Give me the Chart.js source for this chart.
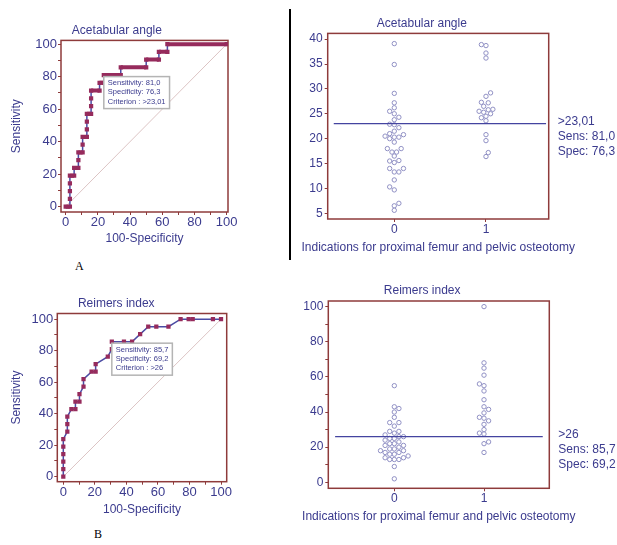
<!DOCTYPE html>
<html>
<head>
<meta charset="utf-8">
<title>ROC curves and dot plots</title>
<script src="https://cdn.jsdelivr.net/npm/chart.js@4.4.1/dist/chart.umd.min.js"></script>
<style>
  body { margin: 0; background: #fff; }
  #page { position: relative; width: 617px; height: 545px; overflow: hidden; }
  canvas { position: absolute; }
  .tag { position: absolute; font: 12px "Liberation Serif", "Times New Roman", serif; color: #000; }
  #divider { position: absolute; left: 289px; top: 9px; width: 2px; height: 251px; background: #000; }
</style>
</head>
<body>
<div id="page">
  <canvas id="rocA" width="240" height="235" style="left:0;top:15px"></canvas>
  <canvas id="dotA" width="322" height="259" style="left:295px;top:0"></canvas>
  <canvas id="rocB" width="240" height="236" style="left:0;top:285px"></canvas>
  <canvas id="dotB" width="322" height="260" style="left:295px;top:268px"></canvas>
  <div id="divider"></div>
  <div class="tag" style="left:75px;top:259px">A</div>
  <div class="tag" style="left:94px;top:527px">B</div>
</div>
<script>
// ROC A - acetabular angle (100-Specificity, Sensitivity)
const rocA_fpr = [0, 2.63, 2.63, 2.63, 2.63, 2.63, 5.26, 5.26, 7.89, 7.89, 7.89, 10.53, 10.53, 10.53,
  13.16, 13.16, 13.16, 13.16, 15.79, 15.79, 15.79, 15.79, 21.05, 21.05, 23.68, 23.68, 34.21, 34.21,
  50.00, 50.00, 57.89, 57.89, 63.16, 63.16, 100];
const rocA_sens = [0, 0, 4.76, 9.52, 14.29, 19.05, 19.05, 23.81, 23.81, 28.57, 33.33, 33.33, 38.10, 42.86,
  42.86, 47.62, 52.38, 57.14, 57.14, 61.90, 66.67, 71.43, 71.43, 76.19, 76.19, 80.95, 80.95, 85.71,
  85.71, 90.48, 90.48, 95.24, 95.24, 100, 100];

// ROC B - Reimers index
const rocB_fpr = [0, 0, 0, 0, 0, 0, 2.56, 2.56, 2.56, 5.13, 7.69, 7.69, 10.26, 10.26, 12.82, 12.82,
  17.95, 20.51, 20.51, 28.21, 30.77, 30.77, 38.46, 43.59, 48.72, 53.85, 58.97, 66.67, 74.36, 79.49,
  82.05, 94.87, 100];
const rocB_sens = [0, 4.76, 9.52, 14.29, 19.05, 23.81, 28.57, 33.33, 38.10, 42.86, 42.86, 47.62, 47.62,
  52.38, 57.14, 61.90, 66.67, 66.67, 71.43, 76.19, 80.95, 85.71, 85.71, 85.71, 90.48, 95.24, 95.24,
  95.24, 100, 100, 100, 100, 100];

// criterion points and their text
const critA = [23.68, 80.95];
const critA_text = ['Sensitivity: 81,0', 'Specificity: 76,3', 'Criterion : >23,01'];
const critB = [30.77, 85.71];
const critB_text = ['Sensitivity: 85,7', 'Specificity: 69,2', 'Criterion : >26'];

// dot plot values per group (0 / 1)
const groupCats = ['0', '1'];
const angle0 = [39.1, 34.9, 29.1, 27.2, 26.2, 25.5, 25.0, 24.3, 23.8, 22.9, 22.8, 22.2, 21.5, 21.0,
  20.8, 20.5, 20.3, 20.3, 20.0, 19.3, 18.0, 18.0, 17.3, 17.3, 16.5, 15.6, 15.5, 15.2, 14.0, 14.0,
  13.3, 13.3, 11.7, 10.3, 9.7, 7.0, 6.5, 5.6];
const angle1 = [38.9, 38.7, 37.2, 36.2, 29.2, 28.5, 27.3, 27.2, 26.5, 25.9, 25.8, 25.5, 25.3, 25.0,
  24.5, 24.2, 23.6, 20.8, 19.6, 17.2, 16.4];
const angleCut = 23.01;
const angleCutText = ['>23,01', 'Sens: 81,0', 'Spec: 76,3'];

const reimers0 = [55, 43, 42, 40, 37, 34, 34, 32, 29, 29, 28, 27, 26, 26, 25, 25, 24, 23, 22, 22,
  21, 21, 20, 19, 19, 18, 18, 17, 17, 16, 16, 15, 14, 14, 13, 13, 13, 9, 2];
const reimers1 = [100, 68, 65, 61, 56, 55, 52, 47, 43, 41.5, 39.5, 37, 36.5, 35, 33, 30, 28, 27.5,
  23, 22, 17];
const reimersCut = 26;
const reimersCutText = ['>26', 'Sens: 85,7', 'Spec: 69,2'];

// tick values
const rocTicks = [0, 10, 20, 30, 40, 50, 60, 70, 80, 90, 100];
const angleTicks = [5, 10, 15, 20, 25, 30, 35, 40];
const reimersTicks = [0, 10, 20, 30, 40, 50, 60, 70, 80, 90, 100];

const TEXT = '#3b3b8e';
const FRAME = '#8e3b3b';
const MARKER = '#962b5c';
const CURVE = '#4b4ba3';
const DIAG = '#dcc4c4';
const DOT = '#9090c4';
const CUT = '#4444a0';
const FONT = '"Liberation Sans", Arial, sans-serif';

// box round the plot area
const framePlugin = {
  id: 'frame',
  beforeDatasetsDraw(chart) {
    const a = chart.chartArea, ctx = chart.ctx;
    ctx.save();
    ctx.strokeStyle = FRAME;
    ctx.lineWidth = 1.5;
    ctx.strokeRect(a.left, a.top, a.right - a.left, a.bottom - a.top);
    ctx.restore();
  }
};

// criterion box on the ROC curve
const infoBoxPlugin = {
  id: 'infoBox',
  afterDatasetsDraw(chart, args, opts) {
    const ctx = chart.ctx;
    const x0 = chart.scales.x.getPixelForValue(opts.at[0]);
    const y0 = chart.scales.y.getPixelForValue(opts.at[1]) + 1.5;
    ctx.save();
    ctx.font = '7.5px ' + FONT;
    const w = Math.max(...opts.lines.map(t => ctx.measureText(t).width)) + 8;
    ctx.fillStyle = '#fff';
    ctx.fillRect(x0, y0, w, 32);
    ctx.strokeStyle = '#b4b4b4';
    ctx.lineWidth = 1.5;
    ctx.strokeRect(x0, y0, w, 32);
    ctx.fillStyle = TEXT;
    ctx.textBaseline = 'middle';
    opts.lines.forEach((t, i) => ctx.fillText(t, x0 + 4, y0 + 6.5 + i * 9.3));
    ctx.restore();
  }
};

// cut-off text to the right of the dot plot, and the long x title
const dotTextPlugin = {
  id: 'dotText',
  afterDraw(chart, args, opts) {
    const ctx = chart.ctx, a = chart.chartArea;
    const y = chart.scales.y.getPixelForValue(opts.value);
    ctx.save();
    ctx.font = '12px ' + FONT;
    ctx.fillStyle = TEXT;
    ctx.textBaseline = 'middle';
    opts.lines.forEach((t, i) => ctx.fillText(t, a.right + 9, y - 1.5 + i * 15));
    ctx.textAlign = 'center';
    ctx.fillText(opts.xTitle, (a.left + a.right) / 2, a.bottom + opts.titleDy);
    ctx.restore();
  }
};

// spread overlapping dots sideways (pixel space)
const swarmPlugin = {
  id: 'swarm',
  afterDatasetsUpdate(chart) {
    const diam = 4.3, step = 2.3;
    chart.data.datasets.forEach((ds, i) => {
      if (!ds.swarm) return;
      const placed = [];
      const pts = chart.getDatasetMeta(i).data.slice().sort((a, b) => b.y - a.y);
      let side = 1;
      pts.forEach(p => {
        const cx = p.x;
        for (let k = 0; k < 30; k++) {
          const off = k === 0 ? 0 : (k % 2 ? side : -side) * Math.ceil(k / 2) * step;
          if (placed.every(q => Math.hypot(q.x - cx - off, q.y - p.y) >= diam)) {
            p.x = cx + off;
            if (off !== 0) side = off > 0 ? -1 : 1;
            break;
          }
        }
        placed.push({ x: p.x, y: p.y });
      });
    });
  }
};

function axisTitle(text) {
  return { display: true, text: text, color: TEXT, font: { size: 12, family: FONT }, padding: { top: 4, bottom: 4 } };
}

function tickMarks() {
  return { drawOnChartArea: false, tickLength: 3, color: FRAME, lineWidth: 1 };
}

function rocChart(id, o) {
  const pts = o.fpr.map((x, i) => ({ x: x, y: o.sens[i] }));
  const flat = c => c.p0.parsed.y === c.p1.parsed.y;
  return new Chart(document.getElementById(id), {
    type: 'scatter',
    data: {
      datasets: [{
        data: pts,
        showLine: true,
        borderColor: CURVE,
        borderWidth: 1.5,
        pointStyle: 'rect',
        pointRadius: 3,
        pointBorderWidth: 0,
        pointBackgroundColor: MARKER,
        segment: o.thickSteps ? {
          borderColor: c => flat(c) ? MARKER : CURVE,
          borderWidth: c => flat(c) ? 4 : 1.5
        } : {}
      }, {
        data: [{ x: 0, y: 0 }, { x: 100, y: 100 }],
        showLine: true,
        borderColor: DIAG,
        borderWidth: 1,
        pointRadius: 0
      }]
    },
    options: {
      responsive: false,
      animation: false,
      events: [],
      layout: { padding: { left: 5.8, right: o.padRight, top: 0, bottom: 0 } },
      plugins: {
        legend: { display: false },
        tooltip: { enabled: false },
        title: {
          display: true, text: o.title, color: TEXT,
          font: { size: 12, family: FONT, weight: 'normal' },
          padding: { top: o.titleTop, bottom: 3 }
        },
        infoBox: { at: o.crit, lines: o.lines }
      },
      scales: {
        x: {
          type: 'linear', min: o.xMin, max: o.xMax,
          afterBuildTicks: s => { s.ticks = rocTicks.map(v => ({ value: v })); },
          afterFit: s => { s.height = o.xAxisH; },
          ticks: {
            callback: v => v % 20 === 0 ? v : '',
            color: TEXT, font: { size: 13, family: FONT }, padding: 0, maxRotation: 0, autoSkip: false
          },
          grid: tickMarks(),
          border: { display: false },
          title: axisTitle('100-Specificity')
        },
        y: {
          type: 'linear', min: o.yMin, max: o.yMax,
          afterBuildTicks: s => { s.ticks = rocTicks.map(v => ({ value: v })); },
          afterFit: s => { s.width = o.yAxisW; },
          ticks: {
            callback: v => v % 20 === 0 ? v : '',
            color: TEXT, font: { size: 13, family: FONT }, padding: 1, autoSkip: false
          },
          grid: tickMarks(),
          border: { display: false },
          title: axisTitle('Sensitivity')
        }
      }
    },
    plugins: [framePlugin, infoBoxPlugin]
  });
}

function dotChart(id, o) {
  const dotStyle = {
    swarm: true, pointRadius: 2.2, pointBorderWidth: 1,
    pointBorderColor: DOT, pointBackgroundColor: '#fff'
  };
  return new Chart(document.getElementById(id), {
    type: 'scatter',
    data: {
      datasets: [
        {
          type: 'line',
          data: [{ x: -0.66, y: o.cut }, { x: 1.655, y: o.cut }],
          borderColor: CUT, borderWidth: 1.3, pointRadius: 0
        },
        Object.assign({ data: o.g0.map(v => ({ x: 0, y: v })) }, dotStyle),
        Object.assign({ data: o.g1.map(v => ({ x: 1, y: v })) }, dotStyle)
      ]
    },
    options: {
      responsive: false,
      animation: false,
      events: [],
      layout: { padding: { left: 0, right: o.padRight, top: 0, bottom: 0 } },
      plugins: {
        legend: { display: false },
        tooltip: { enabled: false },
        title: {
          display: true, text: o.title, color: TEXT,
          font: { size: 12, family: FONT, weight: 'normal' },
          padding: { top: o.titleTop, bottom: 3 }
        },
        dotText: {
          value: o.cut, lines: o.cutText, titleDy: o.titleDy,
          xTitle: 'Indications for proximal femur and pelvic osteotomy'
        }
      },
      scales: {
        x: {
          type: 'linear', min: o.xMin, max: o.xMax,
          afterBuildTicks: s => { s.ticks = groupCats.map((c, i) => ({ value: i })); },
          afterFit: s => { s.height = o.xAxisH; },
          ticks: {
            callback: (v, i) => groupCats[i],
            color: TEXT, font: { size: 12, family: FONT }, padding: 0, maxRotation: 0, autoSkip: false
          },
          grid: tickMarks(),
          border: { display: false }
        },
        y: {
          type: 'linear', min: o.yMin, max: o.yMax,
          afterBuildTicks: s => { s.ticks = o.ticks.map(v => ({ value: v })); },
          afterFit: s => { s.width = o.yAxisW; },
          ticks: {
            callback: v => v % o.labelEvery === 0 ? v : '',
            color: TEXT, font: { size: 12, family: FONT }, padding: 2, autoSkip: false
          },
          grid: tickMarks(),
          border: { display: false }
        }
      }
    },
    plugins: [framePlugin, swarmPlugin, dotTextPlugin]
  });
}

rocChart('rocA', {
  title: 'Acetabular angle', fpr: rocA_fpr, sens: rocA_sens, crit: critA, lines: critA_text,
  thickSteps: true, xMin: -2.9, xMax: 100.8, yMin: -3.3, yMax: 102.3,
  padRight: 12, yAxisW: 55.2, xAxisH: 38, titleTop: 8
});

rocChart('rocB', {
  title: 'Reimers index', fpr: rocB_fpr, sens: rocB_sens, crit: critB, lines: critB_text,
  thickSteps: false, xMin: -3.8, xMax: 103.6, yMin: -3.2, yMax: 103.6,
  padRight: 13.3, yAxisW: 51.5, xAxisH: 39.3, titleTop: 11.1
});

dotChart('dotA', {
  title: 'Acetabular angle', g0: angle0, g1: angle1, cut: angleCut, cutText: angleCutText,
  ticks: angleTicks, labelEvery: 5, xMin: -0.726, xMax: 1.684, yMin: 3.85, yMax: 41.15,
  padRight: 68.3, yAxisW: 32.7, xAxisH: 40, titleTop: 16, titleDy: 28.7
});

dotChart('dotB', {
  title: 'Reimers index', g0: reimers0, g1: reimers1, cut: reimersCut, cutText: reimersCutText,
  ticks: reimersTicks, labelEvery: 20, xMin: -0.736, xMax: 1.728, yMin: -3.4, yMax: 103.2,
  padRight: 67.7, yAxisW: 33.3, xAxisH: 39.7, titleTop: 15.6, titleDy: 28.4
});
</script>
</body>
</html>
